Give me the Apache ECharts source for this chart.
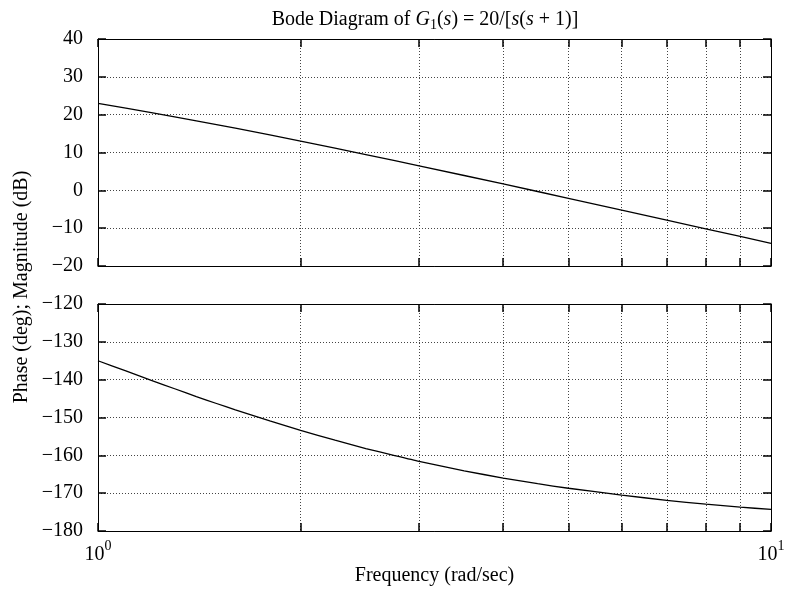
<!DOCTYPE html>
<html>
<head>
<meta charset="utf-8">
<script src="https://cdn.jsdelivr.net/npm/echarts@6/dist/echarts.min.js"></script>
<style>html,body{margin:0;padding:0;background:#fff}#c{width:788px;height:589px}</style>
</head>
<body>
<div id="c"></div>
<script>
const freq = [1, 1.1, 1.2, 1.3, 1.4, 1.5, 1.6, 1.8, 2, 2.25, 2.5, 2.75, 3, 3.5, 4, 4.5, 5, 6, 7, 8, 9, 10];
const magnitude = [23.0, 21.75, 20.56, 19.44, 18.38, 17.38, 16.42, 14.64, 13.01, 11.15, 9.46, 7.91, 6.48, 3.92, 1.68, -0.31, -2.11, -5.22, -7.87, -10.17, -12.2, -14.02];
const phase = [-135.0, -137.7, -140.2, -142.4, -144.5, -146.3, -148.0, -150.9, -153.4, -156.0, -158.2, -160.0, -161.6, -164.1, -166.0, -167.5, -168.7, -170.5, -171.9, -172.9, -173.7, -174.3];
const xGridValues = [1, 2, 3, 4, 5, 6, 7, 8, 9, 10];
const xLabelValues = [1, 10];
const magRange = [-20, 40];
const phaseRange = [-180, -120];
const yStep = 10;

const FONT = '"Liberation Serif", "Times New Roman", serif';
const chart = echarts.init(document.getElementById('c'), null, {renderer: 'canvas'});

const gridLine = {show: true, lineStyle: {color: '#444', width: 1, type: [1, 2]}};
const axLine = {show: true, onZero: false, lineStyle: {color: '#000', width: 1}};
const tickStyle = {color: '#000', width: 1.5};

function xAxis(grid, pos, labels) {
  return {
    type: 'log', logBase: 10, min: 1, max: 10, gridIndex: grid, position: pos,
    axisLine: axLine,
    axisTick: {show: true, inside: true, length: 8, customValues: xGridValues, lineStyle: tickStyle},
    axisLabel: {
      show: labels, customValues: xLabelValues, margin: 8,
      formatter: v => '{b|10}{s|' + Math.round(Math.log10(v)) + '}',
      rich: {
        b: {fontFamily: FONT, fontSize: 20, color: '#000', lineHeight: 26, verticalAlign: 'bottom'},
        s: {fontFamily: FONT, fontSize: 14, color: '#000', lineHeight: 26, verticalAlign: 'top', padding: [0, 0, 12, 0]}
      }
    },
    splitLine: pos === 'bottom' ? gridLine : {show: false},
    minorTick: {show: false},
    name: (labels ? 'Frequency (rad/sec)' : ''),
    nameLocation: 'middle', nameGap: 34,
    nameTextStyle: {fontFamily: FONT, fontSize: 20, color: '#000'}
  };
}
function yAxis(grid, pos, range) {
  return {
    type: 'value', gridIndex: grid, position: pos, min: range[0], max: range[1], interval: yStep,
    axisLine: axLine,
    axisTick: {show: true, inside: true, length: 8, lineStyle: tickStyle},
    axisLabel: {
      show: pos === 'left', margin: 15, showMinLabel: true, showMaxLabel: true,
      fontFamily: FONT, fontSize: 20, color: '#000',
      formatter: v => String(v).replace('-', '\u2212')
    },
    splitLine: pos === 'left' ? gridLine : {show: false}
  };
}

chart.setOption({
  animation: false,
  backgroundColor: '#fff',
  title: {
    left: 420, top: 3, textAlign: 'center',
    text: '{n|Bode Diagram of }{i|G}{sub|1}{n|(}{i|s}{n|) = 20/[}{i|s}{n|(}{i|s}{n| + 1)]}',
    textStyle: {
      fontWeight: 'normal',
      rich: {
        n: {fontFamily: FONT, fontSize: 20, fontWeight: 'normal', color: '#000', lineHeight: 24},
        i: {fontFamily: FONT, fontSize: 20, fontWeight: 'normal', color: '#000', fontStyle: 'italic', lineHeight: 24},
        sub: {fontFamily: FONT, fontSize: 14, fontWeight: 'normal', color: '#000', lineHeight: 24, verticalAlign: 'bottom', padding: [10, 0, 0, 0]}
      }
    }
  },
  grid: [
    {left: 98, right: 17, top: 39, height: 227},
    {left: 98, right: 17, top: 304, height: 227}
  ],
  xAxis: [xAxis(0, 'bottom', false), xAxis(0, 'top', false), xAxis(1, 'bottom', true), xAxis(1, 'top', false)],
  yAxis: [yAxis(0, 'left', magRange), yAxis(0, 'right', magRange), yAxis(1, 'left', phaseRange), yAxis(1, 'right', phaseRange)],
  graphic: [{
    type: 'text', x: 22, y: 287, rotation: Math.PI / 2,
    style: {text: 'Phase (deg); Magnitude (dB)', font: '20px ' + FONT, fill: '#000', align: 'center', verticalAlign: 'middle'}
  }],
  series: [
    {type: 'line', xAxisIndex: 0, yAxisIndex: 0, data: freq.map((f, i) => [f, magnitude[i]]),
     showSymbol: false, lineStyle: {color: '#000', width: 1.3}, silent: true},
    {type: 'line', xAxisIndex: 2, yAxisIndex: 2, data: freq.map((f, i) => [f, phase[i]]),
     showSymbol: false, smooth: 0.2, lineStyle: {color: '#000', width: 1.3}, silent: true}
  ]
});
</script>
</body>
</html>
